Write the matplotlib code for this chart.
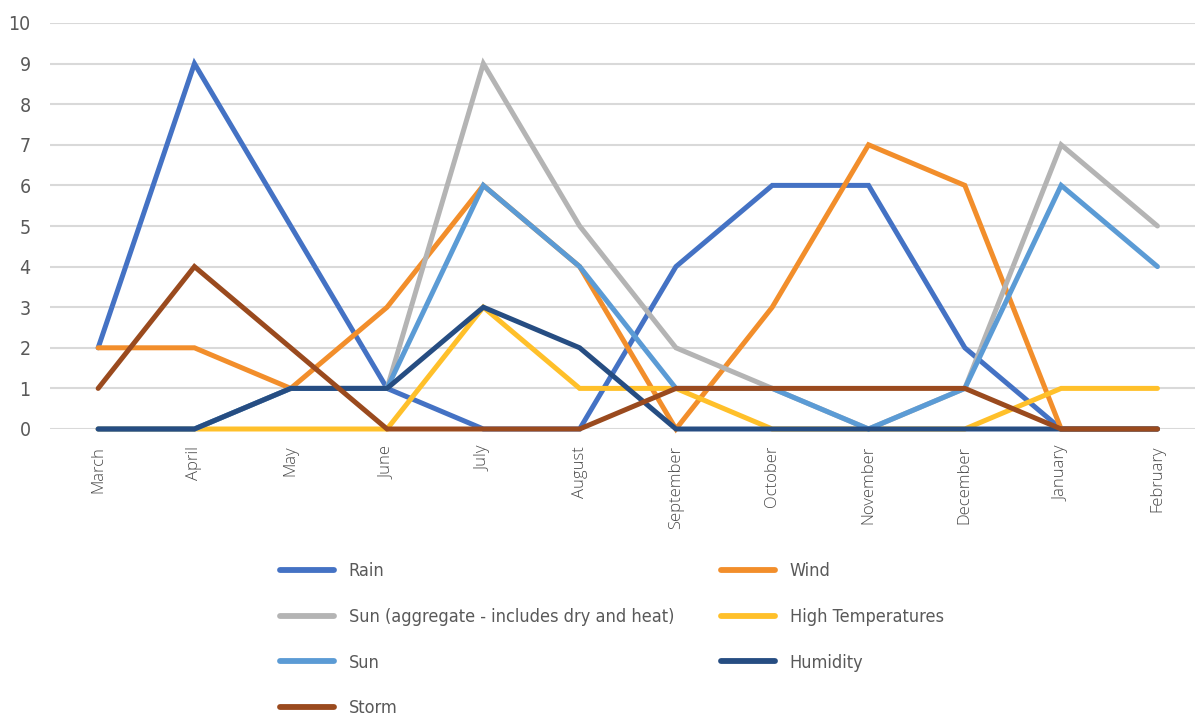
import numpy as np
import matplotlib.pyplot as plt
from matplotlib.lines import Line2D

months = ['March', 'April', 'May', 'June', 'July', 'August', 'September',
          'October', 'November', 'December', 'January', 'February']

rain = [2, 9, 5, 1, 0, 0, 4, 6, 6, 2, 0, 0]
wind = [2, 2, 1, 3, 6, 4, 0, 3, 7, 6, 0, 0]
sun_agg = [0, 0, 1, 1, 9, 5, 2, 1, 0, 1, 7, 5]
high_temp = [0, 0, 0, 0, 3, 1, 1, 0, 0, 0, 1, 1]
sun = [0, 0, 1, 1, 6, 4, 1, 1, 0, 1, 6, 4]
humidity = [0, 0, 1, 1, 3, 2, 0, 0, 0, 0, 0, 0]
storm = [1, 4, 2, 0, 0, 0, 1, 1, 1, 1, 0, 0]

series = [
    ('Rain', rain, '#4472C4'),
    ('Wind', wind, '#F28E2B'),
    ('Sun (aggregate - includes dry and heat)', sun_agg, '#B4B4B4'),
    ('High Temperatures', high_temp, '#FFC02A'),
    ('Sun', sun, '#5B9BD5'),
    ('Humidity', humidity, '#264D82'),
    ('Storm', storm, '#9A4A1E'),
]

plt.rcParams['font.family'] = ['Liberation Sans Narrow', 'DejaVu Sans']
plt.rcParams['font.stretch'] = 'condensed'
text_col = '#595959'

fig = plt.figure(figsize=(11.95, 7.16), dpi=100)
ax = fig.add_axes([50 / 1195, 1 - 429 / 716, 1 - 50 / 1195, (429 - 23) / 716])

x = np.arange(len(months))
handles = {}
for name, vals, col in series:
    ln, = ax.plot(x, vals, color=col, lw=3.6, solid_capstyle='round',
                  solid_joinstyle='miter', clip_on=False, label=name)
    handles[name] = ln

ax.set_xlim(-0.5, 11.39)
ax.set_ylim(0, 10)
ax.set_yticks(range(0, 11))
ax.yaxis.grid(True, color='#D9D9D9', lw=1.5)
ax.set_axisbelow(True)
for s in ax.spines.values():
    s.set_visible(False)
ax.tick_params(axis='both', length=0, colors=text_col)
ax.tick_params(axis='y', labelsize=14, pad=14)
ax.set_xticks(x)
ax.set_xticklabels(months, rotation=90, fontsize=12, family=['Open Sans', 'DejaVu Sans'],
                   weight='light', stretch='normal', color='#4a4a4a', va='top')
ax.tick_params(axis='x', pad=12)

# legend fills row by row: reorder so two columns read Rain/Wind, ...
order = ['Rain', 'Sun (aggregate - includes dry and heat)', 'Sun', 'Storm',
         'Wind', 'High Temperatures', 'Humidity']
leg = fig.legend([Line2D([], [], color=handles[n].get_color(), lw=4.2,
                         solid_capstyle='round') for n in order],
                 order, ncol=2, loc='upper left',
                 bbox_to_anchor=(264 / 1195, 1 - 546 / 716),
                 frameon=False, fontsize=13, handlelength=3.0,
                 handletextpad=0.8, labelspacing=1.53, columnspacing=2.6,
                 labelcolor=text_col)

fig.savefig('out.png', dpi=100)
